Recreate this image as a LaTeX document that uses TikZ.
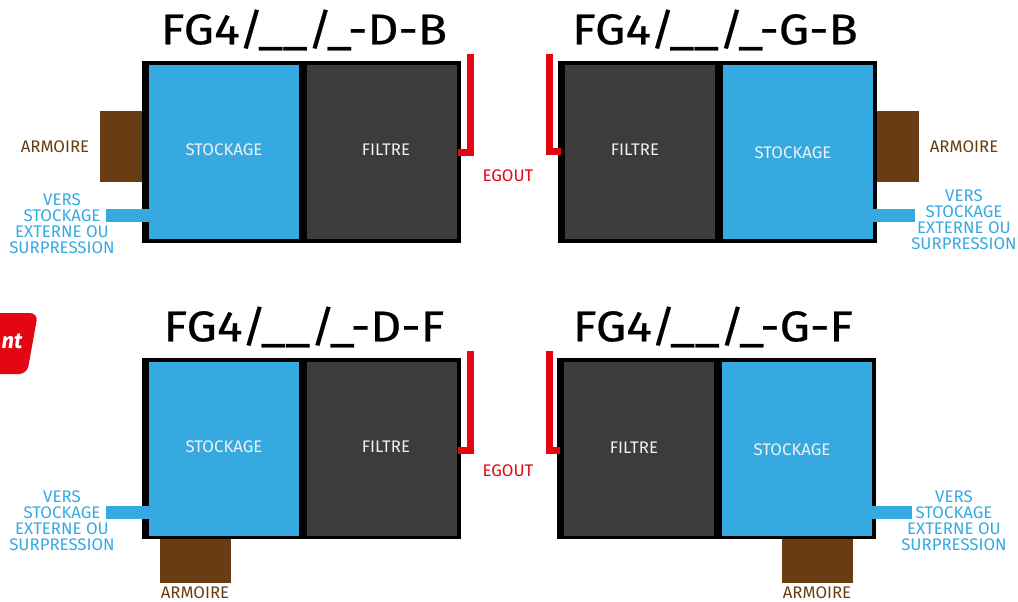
\documentclass[tikz,border=0pt]{standalone}
\usepackage{fontspec}
\setmainfont{Fira Sans}
\newfontfamily\titlefont{Fira Sans}[FakeStretch=1.12, FakeBold=0.45]
\definecolor{cblue}{HTML}{36A9E1}
\definecolor{cdark}{HTML}{3C3C3B}
\definecolor{cbrown}{HTML}{683D14}
\definecolor{cred}{HTML}{E30613}
\definecolor{ctext}{HTML}{F0F0F0}
\tikzset{
  frame/.style={fill=black},
  tank/.style={fill=cblue},
  filt/.style={fill=cdark},
  cab/.style={fill=cbrown},
  title/.style={font=\titlefont\fontsize{43}{43}\selectfont, text=black, inner sep=0pt},
  lbl/.style={font=\fontsize{16.8}{16}\selectfont, inner sep=0pt},
  inlbl/.style={lbl, text=ctext},
  bluelbl/.style={lbl, text=cblue, align=center},
  brownlbl/.style={lbl, text=cbrown},
  redlbl/.style={lbl, text=cred},
  sewer/.style={draw=cred, line width=7pt},
  outpipe/.style={draw=cblue, line width=13pt},
}
\begin{document}
\begin{tikzpicture}[x=1pt,y=-1pt]
\useasboundingbox (0,0) rectangle (1018,602);
% badge fragment
\fill[cred, rounded corners=8pt] (-20,313) -- (38,313) -- (27,374) -- (-20,374) -- cycle;
\node[font=\bfseries\itshape\fontsize{22}{22}\selectfont, text=white, inner sep=0pt] (badge) at (12,341) {nt};

% ---------- Panel 1: D-B ----------
\node[title] (t1) at (304,30) {FG4/\_\_/\_-D-B};
\fill[cab] (100,111) rectangle (142,182);
\fill[frame] (142,61) rectangle (461,243);
\fill[tank] (149,65) rectangle (299,239);
\fill[filt] (307,65) rectangle (457,239);
\node[inlbl] (s1) at (224,150) {STOCKAGE};
\node[inlbl] (f1) at (386,150) {FILTRE};
\coordinate (r1a) at (470,54);
\coordinate (r1b) at (470,152);
\coordinate (r1c) at (458,152);
\draw[sewer] (r1a) -- (r1b) -- (r1c);
\node[redlbl] (e1) at (508,176) {EGOUT};
\node[brownlbl] (a1) at (55,147) {ARMOIRE};
\coordinate (p1a) at (106,215.5);
\coordinate (p1b) at (150,215.5);
\draw[outpipe] (p1a) -- (p1b);
\node[bluelbl] (v1) at (62,224) {VERS\\STOCKAGE\\EXTERNE OU\\SURPRESSION};

% ---------- Panel 2: G-B ----------
\node[title] (t2) at (715,30) {FG4/\_\_/\_-G-B};
\fill[cab] (877,111) rectangle (919,182);
\fill[frame] (558,61) rectangle (877,243);
\fill[filt] (565,65) rectangle (715,239);
\fill[tank] (723,65) rectangle (873,239);
\node[inlbl] (f2) at (635,150) {FILTRE};
\node[inlbl] (s2) at (793,153) {STOCKAGE};
\coordinate (r2a) at (549.5,54);
\coordinate (r2b) at (549.5,151.5);
\coordinate (r2c) at (561,151.5);
\draw[sewer] (r2a) -- (r2b) -- (r2c);
\node[brownlbl] (a2) at (964,147) {ARMOIRE};
\coordinate (p2a) at (872,215.5);
\coordinate (p2b) at (915,215.5);
\draw[outpipe] (p2a) -- (p2b);
\node[bluelbl] (v2) at (964,220) {VERS\\STOCKAGE\\EXTERNE OU\\SURPRESSION};

% ---------- Panel 3: D-F ----------
\node[title] (t3) at (304,327) {FG4/\_\_/\_-D-F};
\fill[frame] (142,358) rectangle (461,539);
\fill[tank] (149,362) rectangle (299,536);
\fill[filt] (307,362) rectangle (457,536);
\fill[cab] (160,539) rectangle (231,583);
\node[inlbl] (s3) at (224,447) {STOCKAGE};
\node[inlbl] (f3) at (386,447) {FILTRE};
\coordinate (r3a) at (470,351);
\coordinate (r3b) at (470,450);
\coordinate (r3c) at (458,450);
\draw[sewer] (r3a) -- (r3b) -- (r3c);
\node[redlbl] (e3) at (508,471) {EGOUT};
\node[brownlbl] (a3) at (195,593) {ARMOIRE};
\coordinate (p3a) at (106,512.5);
\coordinate (p3b) at (150,512.5);
\draw[outpipe] (p3a) -- (p3b);
\node[bluelbl] (v3) at (62,521) {VERS\\STOCKAGE\\EXTERNE OU\\SURPRESSION};

% ---------- Panel 4: G-F ----------
\node[title] (t4) at (713,327) {FG4/\_\_/\_-G-F};
\fill[frame] (557,358) rectangle (876,539);
\fill[filt] (564,362) rectangle (714,536);
\fill[tank] (722,362) rectangle (872,536);
\fill[cab] (782,539) rectangle (853,583);
\node[inlbl] (f4) at (634,448) {FILTRE};
\node[inlbl] (s4) at (792,450) {STOCKAGE};
\coordinate (r4a) at (549,351);
\coordinate (r4b) at (549,450);
\coordinate (r4c) at (560,450);
\draw[sewer] (r4a) -- (r4b) -- (r4c);
\node[brownlbl] (a4) at (817,593) {ARMOIRE};
\coordinate (p4a) at (871,512.5);
\coordinate (p4b) at (912,512.5);
\draw[outpipe] (p4a) -- (p4b);
\node[bluelbl] (v4) at (954,521) {VERS\\STOCKAGE\\EXTERNE OU\\SURPRESSION};
\end{tikzpicture}
\end{document}
